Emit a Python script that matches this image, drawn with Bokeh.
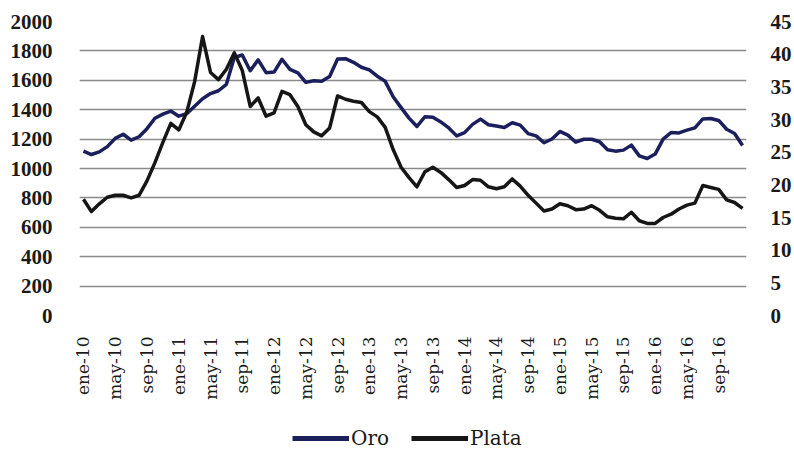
import math
from bokeh.plotting import figure
from bokeh.layouts import column
from bokeh.models import Range1d, LinearAxis, FixedTicker, Legend, LegendItem
from bokeh.embed import file_html
from bokeh.resources import INLINE

years = ["10", "11", "12", "13", "14", "15", "16"]
month_abbr = ["ene", "feb", "mar", "abr", "may", "jun", "jul", "ago", "sep", "oct", "nov", "dic"]
months = [f"{m}-{y}" for y in years for m in month_abbr]

oro = [1118, 1095, 1113, 1149, 1205, 1233, 1193, 1216, 1271, 1342, 1370, 1391,
       1356, 1373, 1424, 1474, 1510, 1529, 1573, 1756, 1772, 1665, 1739, 1652,
       1656, 1743, 1674, 1650, 1586, 1597, 1594, 1626, 1745, 1747, 1722, 1689,
       1671, 1628, 1593, 1488, 1414, 1343, 1286, 1352, 1349, 1317, 1276, 1222,
       1244, 1300, 1336, 1298, 1289, 1279, 1311, 1295, 1237, 1222, 1175, 1201,
       1252, 1227, 1179, 1199, 1199, 1182, 1128, 1118, 1125, 1159, 1086, 1068,
       1098, 1200, 1245, 1242, 1261, 1276, 1337, 1340, 1327, 1267, 1238, 1157]

plata = [17.8, 15.9, 17.1, 18.1, 18.4, 18.4, 18.0, 18.4, 20.6, 23.4, 26.5, 29.4,
         28.4, 31.1, 35.8, 42.7, 37.2, 36.1, 37.7, 40.2, 37.5, 32.0, 33.3, 30.5,
         31.0, 34.3, 33.8, 32.0, 29.2, 28.1, 27.5, 28.7, 33.6, 33.1, 32.8, 32.6,
         31.2, 30.4, 28.8, 25.4, 22.7, 21.1, 19.7, 22.0, 22.7, 21.9, 20.8, 19.6,
         19.9, 20.8, 20.7, 19.7, 19.4, 19.7, 20.9, 19.8, 18.4, 17.2, 16.0, 16.3,
         17.1, 16.8, 16.2, 16.3, 16.8, 16.1, 15.1, 14.9, 14.8, 15.8, 14.5, 14.1,
         14.1, 15.0, 15.5, 16.3, 16.9, 17.2, 19.9, 19.6, 19.3, 17.7, 17.3, 16.4]

series_names = ["Oro", "Plata"]
series_colors = ["#1b1f5c", "#161616"]

left_ticks = list(range(0, 2001, 200))
right_ticks = list(range(0, 46, 5))
x_tick_idx = list(range(0, len(months), 4))

xs = list(range(len(months)))

p = figure(width=794, height=410, output_backend="svg", toolbar_location=None,
           x_range=Range1d(-0.5, len(months) - 0.5), y_range=Range1d(0, 2000),
           min_border_left=79, min_border_right=45, min_border_top=21,
           min_border_bottom=95)
p.outline_line_color = None
p.background_fill_color = "white"
p.extra_y_ranges = {"plata": Range1d(0, 45)}

p.line(xs, oro, line_color=series_colors[0], line_width=3.5, line_join="round")
p.line(xs, plata, line_color=series_colors[1], line_width=3.5, line_join="round",
       y_range_name="plata")

p.xgrid.grid_line_color = None
p.ygrid.grid_line_color = "#8a8a8a"
p.ygrid.grid_line_width = 1.5

# left axis
ly = p.yaxis[0]
ly.ticker = FixedTicker(ticks=left_ticks)
ly.axis_line_color = None
ly.major_tick_line_color = None
ly.minor_tick_line_color = None
ly.major_label_text_font = "Liberation Serif"
ly.major_label_text_font_style = "bold"
ly.major_label_text_font_size = "21px"
ly.major_label_text_color = "#1a1a1a"
ly.major_label_standoff = 21

# right axis
ry = LinearAxis(y_range_name="plata", ticker=FixedTicker(ticks=right_ticks))
ry.axis_line_color = None
ry.major_tick_line_color = None
ry.minor_tick_line_color = None
ry.major_label_text_font = "Liberation Serif"
ry.major_label_text_font_style = "bold"
ry.major_label_text_font_size = "21px"
ry.major_label_text_color = "#1a1a1a"
ry.major_label_standoff = 18
p.add_layout(ry, "right")

# x axis
xa = p.xaxis[0]
xa.ticker = FixedTicker(ticks=x_tick_idx)
xa.major_label_overrides = {i: months[i] for i in x_tick_idx}
xa.major_label_orientation = math.pi / 2
xa.axis_line_color = None
xa.major_tick_line_color = None
xa.minor_tick_line_color = None
xa.major_label_text_font = "DejaVu Serif"
xa.major_label_text_font_size = "17px"
xa.major_label_text_color = "#1a1a1a"
xa.major_label_standoff = 15

# legend strip (separate figure below, data kept out of its view)
pl = figure(width=794, height=40, output_backend="svg", toolbar_location=None,
            x_range=Range1d(1000, 1001), y_range=Range1d(1000, 1001),
            x_axis_type=None, y_axis_type=None,
            min_border_left=0, min_border_right=0, min_border_top=0, min_border_bottom=0)
pl.outline_line_color = None
pl.xgrid.grid_line_color = None
pl.ygrid.grid_line_color = None
lr_oro = pl.line(xs, oro, line_color=series_colors[0], line_width=5)
lr_plata = pl.line(xs, plata, line_color=series_colors[1], line_width=5)

legend = Legend(items=[LegendItem(label=series_names[0], renderers=[lr_oro]),
                       LegendItem(label=series_names[1], renderers=[lr_plata])],
                orientation="horizontal", location=(213, 0))
legend.border_line_color = None
legend.background_fill_alpha = 0
legend.padding = 0
legend.margin = 0
legend.spacing = 22
legend.glyph_width = 57
legend.glyph_height = 24
legend.label_height = 24
legend.label_standoff = 2
legend.label_text_font = "DejaVu Serif"
legend.label_text_font_size = "20px"
legend.label_text_color = "#1a1a1a"
pl.add_layout(legend, "center")

layout = column(p, pl, spacing=0)
open("out.html", "w").write(file_html(layout, INLINE))
